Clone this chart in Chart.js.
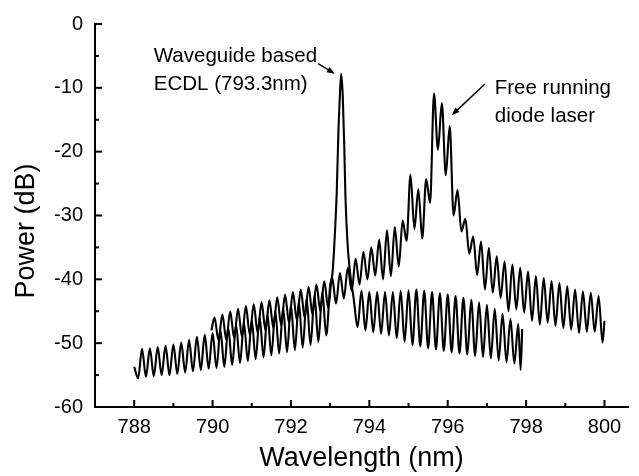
<!DOCTYPE html>
<html lang="en">
<head>
    <meta charset="UTF-8">
    <title>Spectrum</title>
    <script src="https://cdn.jsdelivr.net/npm/chart.js"></script>
    <style>
        html, body { margin: 0; padding: 0; background: #fff; }
        #wrap { width: 639px; height: 476px; }
    </style>
</head>
<body>
<div id="wrap"><canvas id="specChart"></canvas></div>

<script>
    // waveguide based ECDL trace
    const ecdlWl = [
        788.0, 788.1, 788.2, 788.3, 788.4, 788.5, 788.6, 788.7, 788.8, 788.9,
        789.0, 789.1, 789.2, 789.3, 789.4, 789.5, 789.6, 789.7, 789.8, 789.9,
        790.0, 790.1, 790.2, 790.3, 790.4, 790.5, 790.6, 790.7, 790.8, 790.9,
        791.0, 791.1, 791.2, 791.3, 791.4, 791.5, 791.6, 791.7, 791.8, 791.9,
        792.0, 792.1, 792.2, 792.3, 792.4, 792.5, 792.6, 792.7, 792.8, 792.9,
        793.0, 793.06, 793.12, 793.17, 793.21, 793.25, 793.28, 793.32, 793.36, 793.39,
        793.44, 793.5, 793.6, 793.7, 793.8, 793.9,
        794.0, 794.1, 794.2, 794.3, 794.4, 794.5, 794.6, 794.7, 794.8, 794.9,
        795.0, 795.1, 795.2, 795.3, 795.4, 795.5, 795.6, 795.7, 795.8, 795.9,
        796.0, 796.1, 796.2, 796.3, 796.4, 796.5, 796.6, 796.7, 796.8, 796.9,
        797.0, 797.1, 797.2, 797.3, 797.4, 797.5, 797.6, 797.7, 797.8, 797.86, 797.9
    ];
    const ecdlDb = [
        -53.7, -55.5, -50.9, -55.3, -50.8, -55.2, -50.6, -55.0, -50.4, -55.0,
        -50.2, -54.8, -49.9, -54.6, -49.5, -54.4, -49.0, -54.2, -48.7, -54.0,
        -48.4, -53.9, -48.0, -53.7, -47.6, -53.4, -47.2, -53.1, -46.8, -52.8,
        -46.4, -52.5, -45.9, -52.2, -45.5, -51.9, -45.0, -51.6, -44.5, -51.4,
        -44.0, -51.1, -43.5, -50.7, -43.0, -50.3, -42.5, -49.8, -42.0, -48.8,
        -41.0, -39.0, -33.0, -26.0, -17.0, -11.0, -7.8, -11.0, -19.0, -27.0,
        -34.0, -38.5, -43.0, -47.5, -41.8, -48.0,
        -42.0, -48.3, -42.0, -48.5, -42.0, -48.8, -42.0, -49.2, -41.8, -49.8,
        -41.7, -50.3, -41.6, -50.5, -41.8, -50.8, -42.0, -51.0, -42.2, -51.2,
        -42.4, -51.4, -42.6, -51.6, -42.9, -51.8, -43.2, -52.0, -43.6, -52.2,
        -44.0, -52.4, -44.6, -52.7, -45.4, -53.0, -46.2, -53.2, -47.0, -54.2, -47.8
    ];

    // free running diode laser trace
    const freeWl = [
        789.97, 790.05, 790.15, 790.25, 790.35, 790.45, 790.55, 790.65, 790.75, 790.85, 790.95,
        791.05, 791.15, 791.25, 791.35, 791.45, 791.55, 791.65, 791.75, 791.85, 791.95,
        792.05, 792.15, 792.25, 792.35, 792.45, 792.55, 792.65, 792.75, 792.85, 792.95,
        793.05, 793.15, 793.25, 793.35, 793.45, 793.55, 793.65, 793.75, 793.85, 793.95,
        794.05, 794.15, 794.25, 794.35, 794.45, 794.55, 794.65, 794.75, 794.85, 794.95,
        795.05, 795.15, 795.25, 795.35, 795.45, 795.55, 795.65, 795.75, 795.85, 795.95,
        796.05, 796.15, 796.25, 796.35, 796.45, 796.55, 796.65, 796.75, 796.85, 796.95,
        797.05, 797.15, 797.25, 797.35, 797.45, 797.55, 797.65, 797.75, 797.85, 797.95,
        798.05, 798.15, 798.25, 798.35, 798.45, 798.55, 798.65, 798.75, 798.85, 798.95,
        799.05, 799.15, 799.25, 799.35, 799.45, 799.55, 799.65, 799.75, 799.85, 799.95, 800.0
    ];
    const freeDb = [
        -48.0, -46.0, -49.5, -45.5, -49.5, -45.0, -49.2, -44.6, -49.0, -44.2, -48.7,
        -43.9, -48.4, -43.6, -48.0, -43.3, -47.6, -42.8, -47.2, -42.4, -46.8,
        -42.0, -46.4, -41.6, -46.0, -41.2, -45.5, -40.8, -45.0, -40.3, -44.5,
        -39.7, -43.8, -39.0, -43.0, -38.2, -41.8, -36.8, -40.8, -35.7, -40.0,
        -35.0, -39.4, -33.8, -40.0, -32.3, -39.5, -31.8, -38.0, -30.8, -34.0,
        -23.6, -32.1, -25.9, -33.6, -24.3, -28.0, -10.9, -19.7, -12.4, -23.7,
        -16.0, -30.0, -26.0, -32.5, -30.5, -36.0, -33.3, -39.3, -34.1, -41.6,
        -35.1, -42.1, -36.4, -42.9, -37.2, -45.0, -37.7, -44.7, -38.2, -45.2,
        -38.8, -46.5, -39.5, -47.1, -39.8, -46.8, -40.3, -47.3, -40.6, -47.6,
        -41.1, -47.9, -41.6, -48.4, -41.9, -48.2, -42.1, -48.2, -42.6, -49.9, -46.5
    ];

    const xTicks = [788, 790, 792, 794, 796, 798, 800];
    const xMinor = [789, 791, 793, 795, 797, 799];
    const yTicks = [-60, -50, -40, -30, -20, -10, 0];
    const yMinor = [-55, -45, -35, -25, -15, -5];

    // text labels with arrows, placed in data units
    const notes = [
        { lines: ['Waveguide based', 'ECDL (793.3nm)'], x: 788.5, y: -5.9, from: [792.69, -6.2], to: [793.12, -7.8] },
        { lines: ['Free running', 'diode laser'], x: 797.2, y: -11.0, from: [796.95, -9.4], to: [796.1, -14.3] }
    ];

    const FONT = '"Liberation Sans", Arial, Helvetica, sans-serif';

    function toXY(xs, ys) {
        return xs.map((x, i) => ({ x: x, y: ys[i] }));
    }

    const decor = {
        id: 'decor',
        afterDraw(chart) {
            const ctx = chart.ctx;
            const xs = chart.scales.x, ys = chart.scales.y;
            const a = chart.chartArea;
            ctx.save();
            ctx.strokeStyle = '#000';
            ctx.fillStyle = '#000';
            ctx.lineWidth = 2;

            // inward tick marks
            const tick = (vals, len) => {
                vals.forEach(v => {
                    const px = xs.getPixelForValue(v);
                    ctx.beginPath();
                    ctx.moveTo(px, a.bottom);
                    ctx.lineTo(px, a.bottom - len);
                    ctx.stroke();
                });
            };
            const ytick = (vals, len) => {
                vals.forEach(v => {
                    const py = ys.getPixelForValue(v);
                    ctx.beginPath();
                    ctx.moveTo(a.left, py);
                    ctx.lineTo(a.left + len, py);
                    ctx.stroke();
                });
            };
            tick(xTicks, 7); tick(xMinor, 4);
            ytick(yTicks, 7); ytick(yMinor, 4);

            // axis titles
            ctx.font = '27px ' + FONT;
            ctx.textAlign = 'center';
            ctx.textBaseline = 'alphabetic';
            ctx.fillText('Wavelength (nm)', (a.left + a.right) / 2, 466);
            ctx.save();
            ctx.translate(34, 231);
            ctx.rotate(-Math.PI / 2);
            ctx.fillText('Power (dB)', 0, 0);
            ctx.restore();

            // annotations
            ctx.font = '20.5px ' + FONT;
            ctx.textAlign = 'left';
            ctx.lineWidth = 1.5;
            notes.forEach(n => {
                const tx = xs.getPixelForValue(n.x), ty = ys.getPixelForValue(n.y);
                n.lines.forEach((t, i) => ctx.fillText(t, tx, ty + i * 28));
                const x0 = xs.getPixelForValue(n.from[0]), y0 = ys.getPixelForValue(n.from[1]);
                const x1 = xs.getPixelForValue(n.to[0]), y1 = ys.getPixelForValue(n.to[1]);
                const ang = Math.atan2(y1 - y0, x1 - x0);
                ctx.beginPath();
                ctx.moveTo(x0, y0);
                ctx.lineTo(x1 - 5 * Math.cos(ang), y1 - 5 * Math.sin(ang));
                ctx.stroke();
                ctx.beginPath();
                ctx.moveTo(x1, y1);
                ctx.lineTo(x1 - 8 * Math.cos(ang) + 3 * Math.sin(ang), y1 - 8 * Math.sin(ang) - 3 * Math.cos(ang));
                ctx.lineTo(x1 - 8 * Math.cos(ang) - 3 * Math.sin(ang), y1 - 8 * Math.sin(ang) + 3 * Math.cos(ang));
                ctx.closePath();
                ctx.fill();
            });
            ctx.restore();
        }
    };

    const ctx = document.getElementById('specChart').getContext('2d');
    new Chart(ctx, {
        type: 'line',
        data: {
            datasets: [
                {
                    label: 'Waveguide based ECDL',
                    data: toXY(ecdlWl, ecdlDb),
                    borderColor: '#000',
                    borderWidth: 2.1,
                    pointRadius: 0,
                    cubicInterpolationMode: 'monotone',
                    fill: false
                },
                {
                    label: 'Free running diode laser',
                    data: toXY(freeWl, freeDb),
                    borderColor: '#000',
                    borderWidth: 2.1,
                    pointRadius: 0,
                    cubicInterpolationMode: 'monotone',
                    fill: false
                }
            ]
        },
        options: {
            responsive: true,
            maintainAspectRatio: false,
            animation: false,
            layout: { padding: { top: 20, right: 11, left: 0, bottom: 0 } },
            plugins: {
                legend: { display: false },
                tooltip: { enabled: false }
            },
            scales: {
                x: {
                    type: 'linear',
                    min: 787,
                    max: 800.6,
                    grid: { display: false, drawTicks: false },
                    border: { display: true, color: '#000', width: 2 },
                    afterBuildTicks: s => { s.ticks = xTicks.map(v => ({ value: v })); },
                    afterFit: s => { s.height = 69; },
                    ticks: {
                        color: '#000',
                        padding: 8,
                        maxRotation: 0,
                        font: { family: FONT, size: 20 }
                    }
                },
                y: {
                    min: -60,
                    max: 0,
                    grid: { display: false, drawTicks: false },
                    border: { display: true, color: '#000', width: 2 },
                    afterBuildTicks: s => { s.ticks = yTicks.map(v => ({ value: v })); },
                    afterFit: s => { s.width = 95; },
                    ticks: {
                        color: '#000',
                        padding: 12,
                        font: { family: FONT, size: 20 }
                    }
                }
            }
        },
        plugins: [decor]
    });
</script>
</body>
</html>
